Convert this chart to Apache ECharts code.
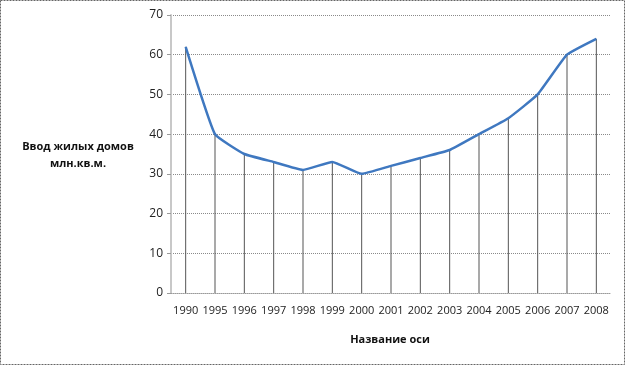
<!DOCTYPE html>
<html><head><meta charset="utf-8">
<script src="https://cdn.jsdelivr.net/npm/echarts@6/dist/echarts.min.js"></script>
<style>html,body{margin:0;padding:0;background:#fff}#c{width:625px;height:365px}</style>
</head><body><div id="c"></div>
<script>
const categories = ['1990','1995','1996','1997','1998','1999','2000','2001','2002','2003','2004','2005','2006','2007','2008'];
const values = [62, 40, 35, 33, 31, 33, 30, 32, 34, 36, 40, 44, 50, 60, 64];
const yTicks = {min: 0, max: 70, interval: 10};
const yTitle = 'Ввод жилых домов\nмлн.кв.м.';
const xTitle = 'Название оси';

const chart = echarts.init(document.getElementById('c'), null, {renderer: 'canvas'});
const font = '"Open Sans", "Liberation Sans", sans-serif';
chart.setOption({
  animation: false,
  grid: {left: 171, top: 15, right: 14, bottom: 72, containLabel: false},
  xAxis: {
    type: 'category', data: categories, boundaryGap: true,
    axisLine: {show: true, lineStyle: {color: '#9a9a9a', type: [1, 1], width: 1}},
    axisTick: {show: false},
    axisLabel: {interval: 0, color: '#222', fontSize: 11, fontFamily: font, margin: 12}
  },
  yAxis: {
    type: 'value', min: yTicks.min, max: yTicks.max, interval: yTicks.interval,
    axisLine: {show: true, lineStyle: {color: '#c8c8c8', width: 2}},
    axisTick: {show: true, length: 4, lineStyle: {color: '#9a9a9a'}},
    axisLabel: {color: '#222', fontSize: 12, fontFamily: font, margin: 8},
    splitLine: {show: true, lineStyle: {color: '#8a8a8a', type: [1, 1], width: 1}}
  },
  series: [
    {type: 'bar', data: values, barWidth: 1, itemStyle: {color: '#555'}, z: 1},
    {type: 'line', data: values, smooth: 0.12, showSymbol: false,
     lineStyle: {color: '#3f78c0', width: 2.5}, z: 3}
  ],
  graphic: [
    {type: 'rect', shape: {x: 0.5, y: 0.5, width: 624, height: 364},
     style: {fill: null, stroke: '#666', lineWidth: 1, lineDash: [2, 1]}, silent: true},
    {type: 'text', x: 78, y: 155, style: {text: yTitle, font: 'bold 11px ' + font, fill: '#111',
      textAlign: 'center', textVerticalAlign: 'middle', lineHeight: 17}},
    {type: 'text', x: 390, y: 340, style: {text: xTitle, font: 'bold 11px ' + font, fill: '#111',
      textAlign: 'center', textVerticalAlign: 'middle'}}
  ]
});
</script></body></html>
